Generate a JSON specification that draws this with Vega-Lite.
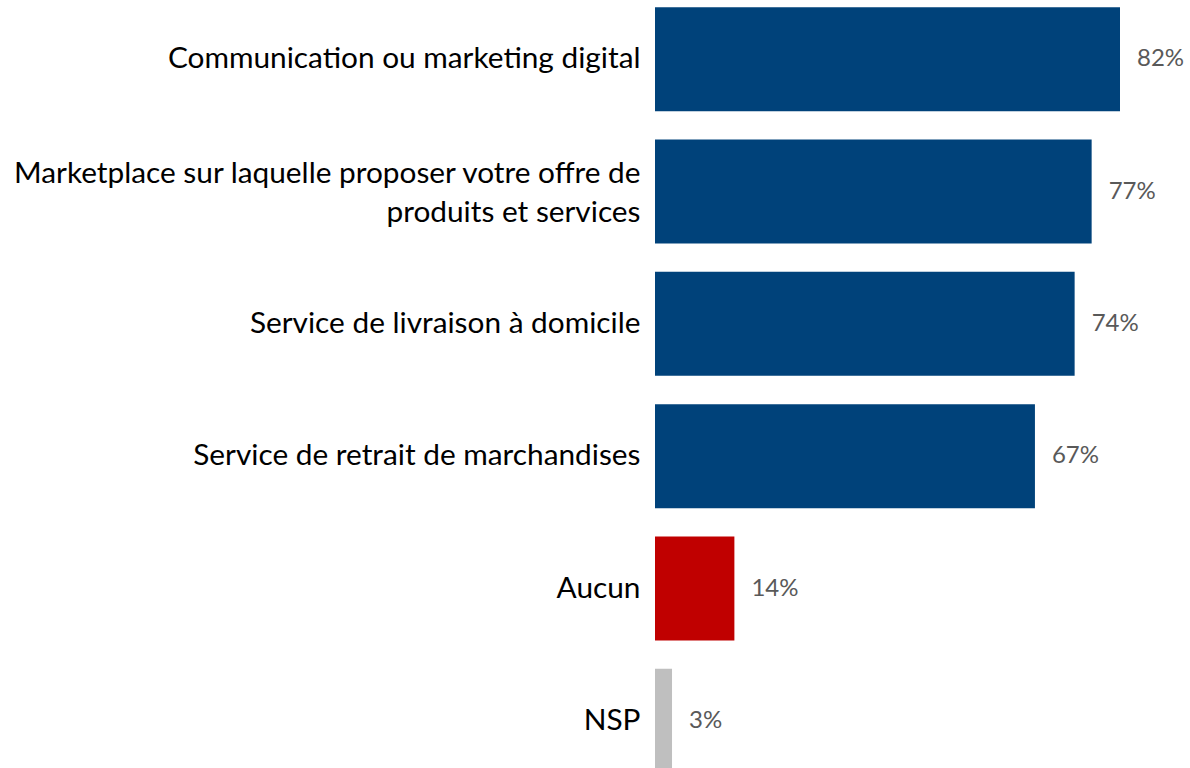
{
  "$schema": "https://vega.github.io/schema/vega-lite/v6.json",
  "autosize": "none",
  "width": 535,
  "height": 768,
  "padding": {"left": 655, "top": 0, "right": 0, "bottom": 0},
  "background": "white",
  "config": {"view": {"stroke": null}, "font": "Lato"},
  "data": {
    "values": [
      {"label": "Communication ou marketing digital", "value": 0.82, "group": "oui"},
      {"label": "Marketplace sur laquelle proposer votre offre de|produits et services", "value": 0.77, "group": "oui"},
      {"label": "Service de livraison à domicile", "value": 0.74, "group": "oui"},
      {"label": "Service de retrait de marchandises", "value": 0.67, "group": "oui"},
      {"label": "Aucun", "value": 0.14, "group": "aucun"},
      {"label": "NSP", "value": 0.03, "group": "nsp"}
    ]
  },
  "encoding": {
    "y": {
      "field": "label",
      "type": "nominal",
      "sort": null,
      "scale": {"range": [-7, 787], "paddingInner": 0.2145, "paddingOuter": 0.10725},
      "axis": {
        "title": null,
        "domain": false,
        "ticks": false,
        "labelPadding": 15,
        "labelFontSize": 29.8,
        "labelColor": "#000000",
        "labelLimit": 700,
        "labelLineHeight": 39,
        "labelOffset": {"condition": {"test": "indexof(datum.value, '|') >= 0", "value": -18}, "value": 0},
        "labelExpr": "split(datum.value, '|')"
      }
    },
    "x": {
      "field": "value",
      "type": "quantitative",
      "scale": {"domain": [0, 0.82], "range": [0, 465], "nice": false, "zero": true},
      "axis": null
    }
  },
  "layer": [
    {
      "mark": {"type": "bar"},
      "encoding": {
        "color": {
          "field": "group",
          "type": "nominal",
          "scale": {"domain": ["oui", "aucun", "nsp"], "range": ["#00427A", "#C00000", "#BFBFBF"]},
          "legend": null
        }
      }
    },
    {
      "mark": {"type": "text", "align": "left", "baseline": "middle", "dx": 17, "fontSize": 24, "color": "#595959"},
      "encoding": {
        "text": {"field": "value", "type": "quantitative", "format": ".0%"}
      }
    }
  ]
}
